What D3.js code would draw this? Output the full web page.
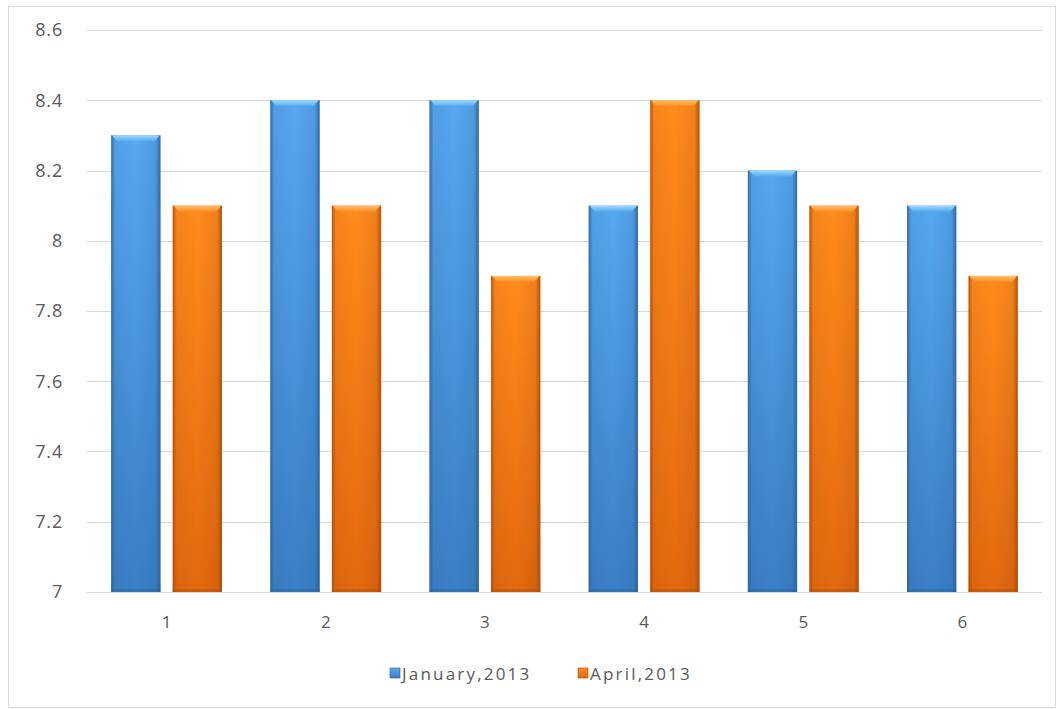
<!DOCTYPE html>
<html>
<head>
<meta charset="utf-8">
<script src="https://cdn.jsdelivr.net/npm/d3@7"></script>
<style>
  html, body { margin: 0; padding: 0; background: #fff; }
  svg { display: block; font-family: "Open Sans", "Noto Sans", sans-serif; }
</style>
</head>
<body>
<svg id="chart" width="1060" height="709"></svg>
<script>
// Chart data
const categories = ["1", "2", "3", "4", "5", "6"];
const seriesNames = ["January,2013", "April,2013"];
const january = [8.3, 8.4, 8.4, 8.1, 8.2, 8.1];
const april = [8.1, 8.1, 7.9, 8.4, 8.1, 7.9];
const yTicks = [7, 7.2, 7.4, 7.6, 7.8, 8, 8.2, 8.4, 8.6];

const seriesValues = [january, april];
const palette = [
  { top: "#56a8f0", bottom: "#3b7fc6", edge: "#2a5f96", cap: "#9adcff" },
  { top: "#ff8c1e", bottom: "#e2680f", edge: "#a84a08", cap: "#ffc070" }
];

const svg = d3.select("#chart");
const W = 1060, H = 709;
const margin = { left: 87, right: 18, top: 30, bottom: 117 };

// Outer chart frame
svg.append("rect")
  .attr("x", 8.5).attr("y", 6.5)
  .attr("width", 1047).attr("height", 701)
  .attr("fill", "#fff").attr("stroke", "#d9d9d9");

const x0 = d3.scaleBand()
  .domain(categories)
  .range([margin.left, W - margin.right])
  .paddingInner(0.304).paddingOuter(0.152);

const x1 = d3.scaleBand()
  .domain(d3.range(seriesNames.length))
  .range([0, x0.bandwidth()])
  .paddingInner(0.2);

const y = d3.scaleLinear()
  .domain([7, 8.6])
  .range([H - margin.bottom, margin.top]);

// Gradients for the bevelled bars
const defs = svg.append("defs");
palette.forEach((p, i) => {
  const gv = defs.append("linearGradient").attr("id", "fill" + i)
    .attr("x1", 0).attr("y1", 0).attr("x2", 0).attr("y2", 1);
  gv.append("stop").attr("offset", "0%").attr("stop-color", p.top);
  gv.append("stop").attr("offset", "100%").attr("stop-color", p.bottom);

  const gh = defs.append("linearGradient").attr("id", "edge" + i)
    .attr("x1", 0).attr("y1", 0).attr("x2", 1).attr("y2", 0);
  gh.append("stop").attr("offset", "0%").attr("stop-color", p.edge).attr("stop-opacity", 0.8);
  gh.append("stop").attr("offset", "8%").attr("stop-color", p.edge).attr("stop-opacity", 0.12);
  gh.append("stop").attr("offset", "50%").attr("stop-color", p.edge).attr("stop-opacity", 0);
  gh.append("stop").attr("offset", "90%").attr("stop-color", p.edge).attr("stop-opacity", 0.18);
  gh.append("stop").attr("offset", "100%").attr("stop-color", p.edge).attr("stop-opacity", 0.85);

  const gc = defs.append("linearGradient").attr("id", "cap" + i)
    .attr("x1", 0).attr("y1", 0).attr("x2", 0).attr("y2", 1);
  gc.append("stop").attr("offset", "0%").attr("stop-color", p.cap);
  gc.append("stop").attr("offset", "100%").attr("stop-color", p.top);
});

// Horizontal gridlines
svg.append("g")
  .selectAll("line")
  .data(yTicks)
  .join("line")
  .attr("x1", margin.left).attr("x2", W - margin.right)
  .attr("y1", d => Math.round(y(d)) + 0.5).attr("y2", d => Math.round(y(d)) + 0.5)
  .attr("stroke", "#d9d9d9").attr("stroke-width", 1);

// Y axis labels
const yAxis = d3.axisLeft(y).tickValues(yTicks).tickSize(0).tickPadding(0)
  .tickFormat(d => d3.format("")(+d.toFixed(1)));
svg.append("g")
  .attr("transform", `translate(${63},0)`)
  .call(yAxis)
  .call(g => g.select(".domain").remove())
  .selectAll("text")
  .attr("font-size", 18).attr("fill", "#595959")
  .attr("letter-spacing", 0.8)
  .attr("font-family", "\"Open Sans\", sans-serif");

// Bars
const groups = svg.append("g")
  .selectAll("g")
  .data(categories)
  .join("g")
  .attr("transform", d => `translate(${x0(d)},0)`);

groups.each(function (cat, ci) {
  const g = d3.select(this);
  seriesValues.forEach((vals, si) => {
    const v = vals[ci];
    const bx = x1(si), bw = x1.bandwidth();
    const top = y(v), base = y(7);
    g.append("rect")
      .attr("x", bx).attr("y", top).attr("width", bw).attr("height", base - top)
      .attr("fill", `url(#fill${si})`);
    g.append("rect")
      .attr("x", bx).attr("y", top).attr("width", bw).attr("height", base - top)
      .attr("fill", `url(#edge${si})`);
    // bevelled top cap
    const c = 6;
    g.append("path")
      .attr("d", `M${bx + 1},${top} L${bx + bw - 1},${top} L${bx + bw - c},${top + c} L${bx + c},${top + c} Z`)
      .attr("fill", `url(#cap${si})`);
    // darker lower lip
    g.append("rect")
      .attr("x", bx).attr("y", base - 3).attr("width", bw).attr("height", 3)
      .attr("fill", palette[si].edge).attr("opacity", 0.35);
  });
});

// Category axis baseline
svg.append("line")
  .attr("x1", margin.left).attr("x2", W - margin.right)
  .attr("y1", Math.round(y(7)) + 0.5).attr("y2", Math.round(y(7)) + 0.5)
  .attr("stroke", "#d9d9d9");

const xAxis = d3.axisBottom(x0).tickSize(0).tickPadding(0);
svg.append("g")
  .attr("transform", `translate(0,${y(7) + 36})`)
  .call(xAxis)
  .call(g => g.select(".domain").remove())
  .selectAll("text")
  .attr("dy", 0)
  .attr("font-size", 17).attr("fill", "#595959")
  .attr("font-family", "\"Open Sans\", sans-serif");

// Legend
const legendItems = [
  { name: seriesNames[0], x: 390 },
  { name: seriesNames[1], x: 578 }
];
const legend = svg.append("g");
legendItems.forEach((it, i) => {
  legend.append("rect")
    .attr("x", it.x).attr("y", 668).attr("width", 10).attr("height", 10)
    .attr("fill", `url(#fill${i})`).attr("stroke", palette[i].edge).attr("stroke-width", 0.6);
  legend.append("text")
    .attr("x", it.x + 12).attr("y", 680)
    .attr("font-size", 17).attr("fill", "#595959")
    .attr("letter-spacing", 2.2)
    .text(it.name);
});
</script>
</body>
</html>
